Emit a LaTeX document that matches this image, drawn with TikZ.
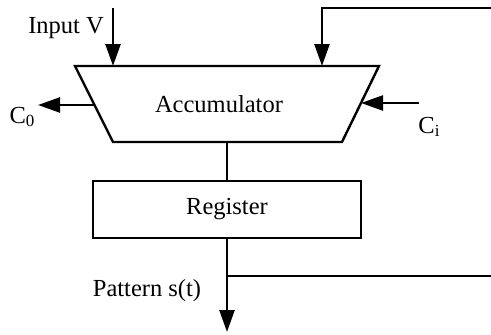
\documentclass[tikz,border=0pt]{standalone}
\usepackage{fontspec}
\setmainfont{Liberation Serif}
\usetikzlibrary{arrows.meta}
\newcommand{\subidx}[1]{\raisebox{-0.3ex}{\fontsize{17}{17}\selectfont #1}}
\begin{document}
\begin{tikzpicture}[x=1pt,y=-1pt,line width=2.4pt,
  arr/.style={-{Triangle[length=22pt,width=15pt]}},
  lbl/.style={font=\fontsize{24.5}{27}\selectfont,inner sep=0pt},
  box/.style={draw,minimum width=268pt,minimum height=57pt,inner sep=0pt}]
\useasboundingbox (0,0) rectangle (491,335);

% accumulator (inverted trapezium)
\coordinate (tl) at (75,66);
\coordinate (tr) at (379,66);
\coordinate (br) at (342,142);
\coordinate (bl) at (113,142);
\draw (tl) -- (tr) -- (br) -- (bl) -- cycle;
\node[lbl] (acc) at (219,104) {Accumulator};

% register
\node[box,lbl] (reg) at (227,209.5) {Register};

% ports on the accumulator
\coordinate (accbot) at (227,142);
\coordinate (inVtop) at (113,8);
\coordinate (inVin) at (113,66);
\coordinate (fbtop) at (322,8);
\coordinate (fbin) at (322,66);
\coordinate (fbend) at (491,8);
\coordinate (c0src) at (94,105);
\coordinate (c0tip) at (38,105);
\coordinate (cisrc) at (419,103);
\coordinate (cidst) at (361,103);
\coordinate (tap) at (227,276);
\coordinate (tapend) at (491,276);
\coordinate (outtip) at (227,332);

% connectors
\draw[arr] (inVtop) -- (inVin);
\draw[arr] (fbend) -- (fbtop) -- (fbin);
\draw[arr] (c0src) -- (c0tip);
\draw[arr] (cisrc) -- (cidst);
\draw (accbot) -- (reg.north);
\draw[arr] (reg.south) -- (outtip);
\draw (tap) -- (tapend);

% labels
\node[lbl,anchor=east] (lin) at (105,28) {Input V};
\node[lbl] (lc0) at (22,117) {C\subidx{0}};
\node[lbl] (lci) at (429,127) {C\subidx{i}};
\node[lbl] (lpat) at (147,291) {Pattern s(t)};
\end{tikzpicture}
\end{document}
